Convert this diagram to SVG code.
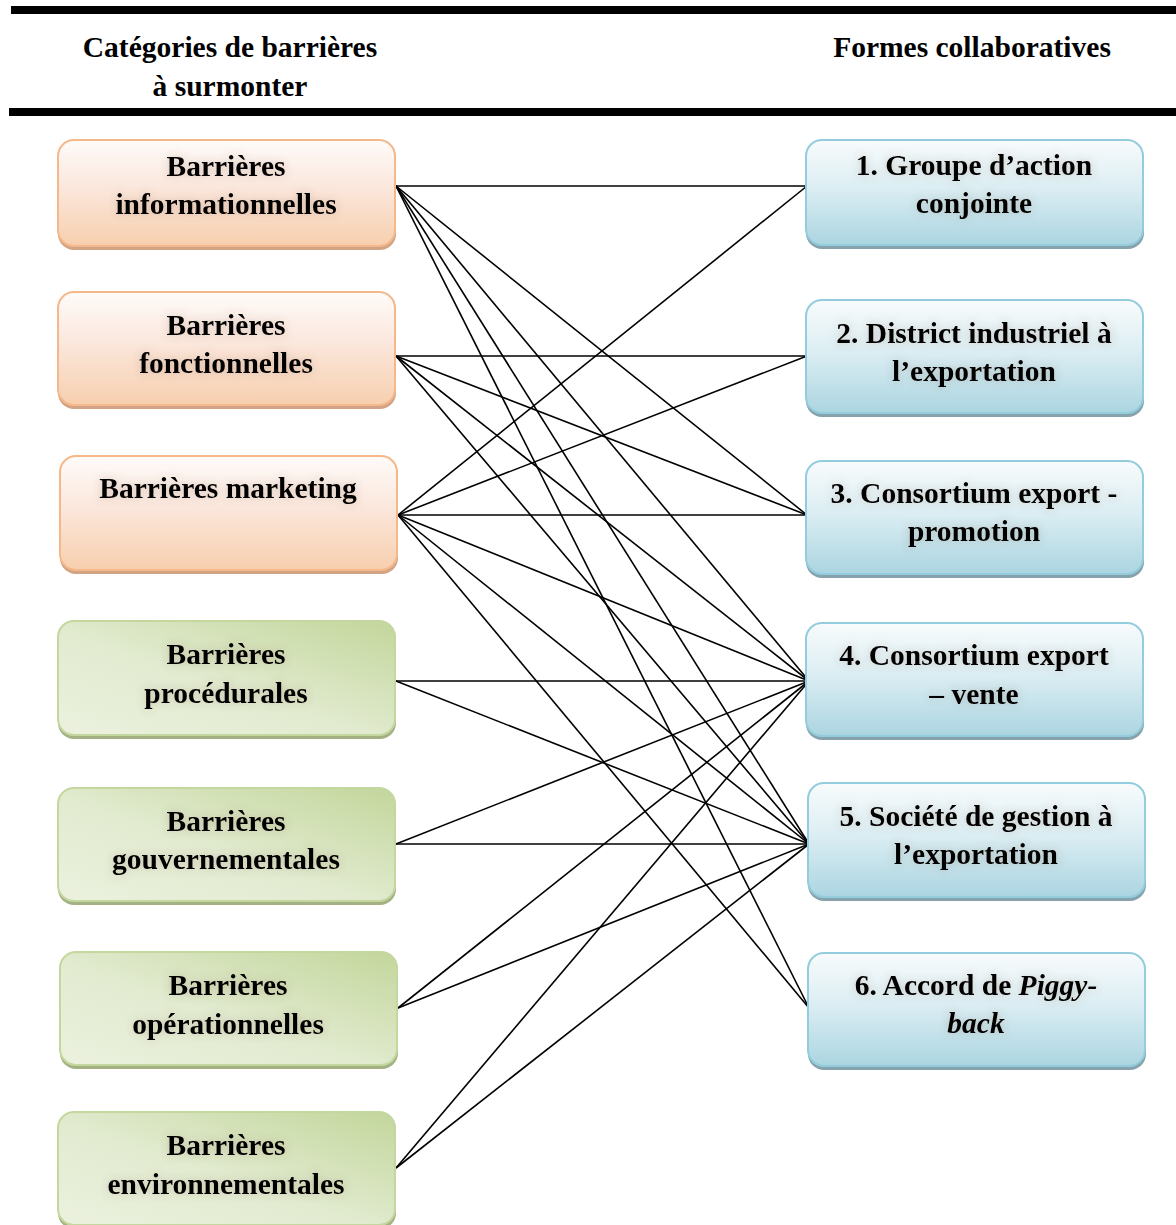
<svg xmlns="http://www.w3.org/2000/svg" width="1176" height="1225" viewBox="0 0 1176 1225">
<style>
.t{font-family:"Liberation Serif","Times New Roman",serif;font-weight:bold;font-size:29.5px;fill:#000;text-anchor:middle}
.h{font-family:"Liberation Serif","Times New Roman",serif;font-weight:bold;font-size:29.5px;fill:#000;text-anchor:middle}
.lbl{filter:url(#glow)}
.or{fill:url(#gOr);stroke:#f5b88a;stroke-width:2}
.orS{fill:#d2a384}
.gr{fill:url(#gGr);stroke:#c4d79e;stroke-width:2}
.grS{fill:#a4b283}
.bl{fill:url(#gBl);stroke:#93cddd;stroke-width:2}
.blS{fill:#86a3ad}
.c line{stroke:#000;stroke-width:1.6}
.rule{fill:#000}
</style>
<defs>
<linearGradient id="gOr" x1="0" y1="0" x2="0" y2="1">
<stop offset="0" stop-color="#fefbf9"/>
<stop offset="0.45" stop-color="#fbe7dc"/>
<stop offset="1" stop-color="#f7cfae"/>
</linearGradient>
<linearGradient id="gGr" x1="1" y1="0" x2="0" y2="1">
<stop offset="0" stop-color="#c3d69b"/>
<stop offset="0.55" stop-color="#e2ebd0"/>
<stop offset="1" stop-color="#ebf1de"/>
</linearGradient>
<linearGradient id="gBl" x1="0" y1="0" x2="0" y2="1">
<stop offset="0" stop-color="#f8fbfc"/>
<stop offset="0.45" stop-color="#dceef3"/>
<stop offset="1" stop-color="#abd5e1"/>
</linearGradient>
<filter id="glow" x="-10%" y="-40%" width="120%" height="180%">
<feGaussianBlur in="SourceAlpha" stdDeviation="4" result="b"/>
<feFlood flood-color="#6b5040" flood-opacity="0.28"/>
<feComposite in2="b" operator="in" result="s"/>
<feMerge><feMergeNode in="s"/><feMergeNode in="SourceGraphic"/></feMerge>
</filter>
</defs>
<rect width="1176" height="1225" fill="#fff"/>
<g id="header">
<rect class="rule" x="11" y="6" width="1165" height="8"/>
<rect class="rule" x="9" y="108" width="1167" height="8"/>
<text class="h" x="230" y="57">Catégories de barrières</text>
<text class="h" x="230" y="96">à surmonter</text>
<text class="h" x="972" y="57">Formes collaboratives</text>
</g>
<g id="connectors" class="c">
<line x1="396" y1="186" x2="807" y2="186"/>
<line x1="396" y1="186" x2="807" y2="515"/>
<line x1="396" y1="186" x2="809" y2="681"/>
<line x1="396" y1="186" x2="809" y2="844"/>
<line x1="396" y1="186" x2="809" y2="1008"/>
<line x1="396" y1="356" x2="807" y2="356"/>
<line x1="396" y1="356" x2="807" y2="515"/>
<line x1="396" y1="356" x2="809" y2="681"/>
<line x1="396" y1="356" x2="809" y2="844"/>
<line x1="398" y1="515" x2="807" y2="186"/>
<line x1="398" y1="515" x2="807" y2="356"/>
<line x1="398" y1="515" x2="807" y2="515"/>
<line x1="398" y1="515" x2="809" y2="681"/>
<line x1="398" y1="515" x2="809" y2="844"/>
<line x1="398" y1="515" x2="809" y2="1008"/>
<line x1="396" y1="681" x2="809" y2="681"/>
<line x1="396" y1="681" x2="809" y2="844"/>
<line x1="396" y1="844" x2="809" y2="681"/>
<line x1="396" y1="844" x2="809" y2="844"/>
<line x1="398" y1="1008" x2="809" y2="681"/>
<line x1="398" y1="1008" x2="809" y2="844"/>
<line x1="396" y1="1168" x2="809" y2="681"/>
<line x1="396" y1="1168" x2="809" y2="844"/>
</g>
<g id="L1">
<rect class="orS" x="58" y="143" width="338" height="107" rx="16"/>
<rect class="or" x="58" y="140" width="337" height="106" rx="16"/>
<g class="lbl"><text class="t" x="226" y="176">Barrières</text><text class="t" x="226" y="214">informationnelles</text></g>
</g>
<g id="L2">
<rect class="orS" x="58" y="295" width="338" height="114" rx="16"/>
<rect class="or" x="58" y="292" width="337" height="113" rx="16"/>
<g class="lbl"><text class="t" x="226" y="335">Barrières</text><text class="t" x="226" y="373">fonctionnelles</text></g>
</g>
<g id="L3">
<rect class="orS" x="60" y="459" width="338" height="115" rx="16"/>
<rect class="or" x="60" y="456" width="337" height="114" rx="16"/>
<g class="lbl"><text class="t" x="228" y="498">Barrières marketing</text></g>
</g>
<g id="L4">
<rect class="grS" x="58" y="624" width="338" height="115" rx="16"/>
<rect class="gr" x="58" y="621" width="337" height="114" rx="16"/>
<g class="lbl"><text class="t" x="226" y="664">Barrières</text><text class="t" x="226" y="703">procédurales</text></g>
</g>
<g id="L5">
<rect class="grS" x="58" y="791" width="338" height="114" rx="16"/>
<rect class="gr" x="58" y="788" width="337" height="113" rx="16"/>
<g class="lbl"><text class="t" x="226" y="831">Barrières</text><text class="t" x="226" y="869">gouvernementales</text></g>
</g>
<g id="L6">
<rect class="grS" x="60" y="955" width="338" height="114" rx="16"/>
<rect class="gr" x="60" y="952" width="337" height="113" rx="16"/>
<g class="lbl"><text class="t" x="228" y="995">Barrières</text><text class="t" x="228" y="1034">opérationnelles</text></g>
</g>
<g id="L7">
<rect class="grS" x="58" y="1115" width="338" height="114" rx="16"/>
<rect class="gr" x="58" y="1112" width="337" height="113" rx="16"/>
<g class="lbl"><text class="t" x="226" y="1155">Barrières</text><text class="t" x="226" y="1194">environnementales</text></g>
</g>
<g id="R1">
<rect class="blS" x="806" y="143" width="338" height="106" rx="16"/>
<rect class="bl" x="806" y="140" width="337" height="105" rx="16"/>
<g class="lbl"><text class="t" x="974" y="175">1. Groupe d’action</text><text class="t" x="974" y="213">conjointe</text></g>
</g>
<g id="R2">
<rect class="blS" x="806" y="303" width="338" height="114" rx="16"/>
<rect class="bl" x="806" y="300" width="337" height="113" rx="16"/>
<g class="lbl"><text class="t" x="974" y="343">2. District industriel à</text><text class="t" x="974" y="381">l’exportation</text></g>
</g>
<g id="R3">
<rect class="blS" x="806" y="464" width="338" height="114" rx="16"/>
<rect class="bl" x="806" y="461" width="337" height="113" rx="16"/>
<g class="lbl"><text class="t" x="974" y="503">3. Consortium export -</text><text class="t" x="974" y="541">promotion</text></g>
</g>
<g id="R4">
<rect class="blS" x="806" y="626" width="338" height="114" rx="16"/>
<rect class="bl" x="806" y="623" width="337" height="113" rx="16"/>
<g class="lbl"><text class="t" x="974" y="665">4. Consortium export</text><text class="t" x="974" y="704">– vente</text></g>
</g>
<g id="R5">
<rect class="blS" x="808" y="786" width="338" height="115" rx="16"/>
<rect class="bl" x="808" y="783" width="337" height="114" rx="16"/>
<g class="lbl"><text class="t" x="976" y="826">5. Société de gestion à</text><text class="t" x="976" y="864">l’exportation</text></g>
</g>
<g id="R6">
<rect class="blS" x="808" y="956" width="338" height="114" rx="16"/>
<rect class="bl" x="808" y="953" width="337" height="113" rx="16"/>
<g class="lbl"><text class="t" x="976" y="995">6. Accord de <tspan font-style="italic">Piggy-</tspan></text><text class="t" x="976" y="1033" font-style="italic">back</text></g>
</g>
</svg>
